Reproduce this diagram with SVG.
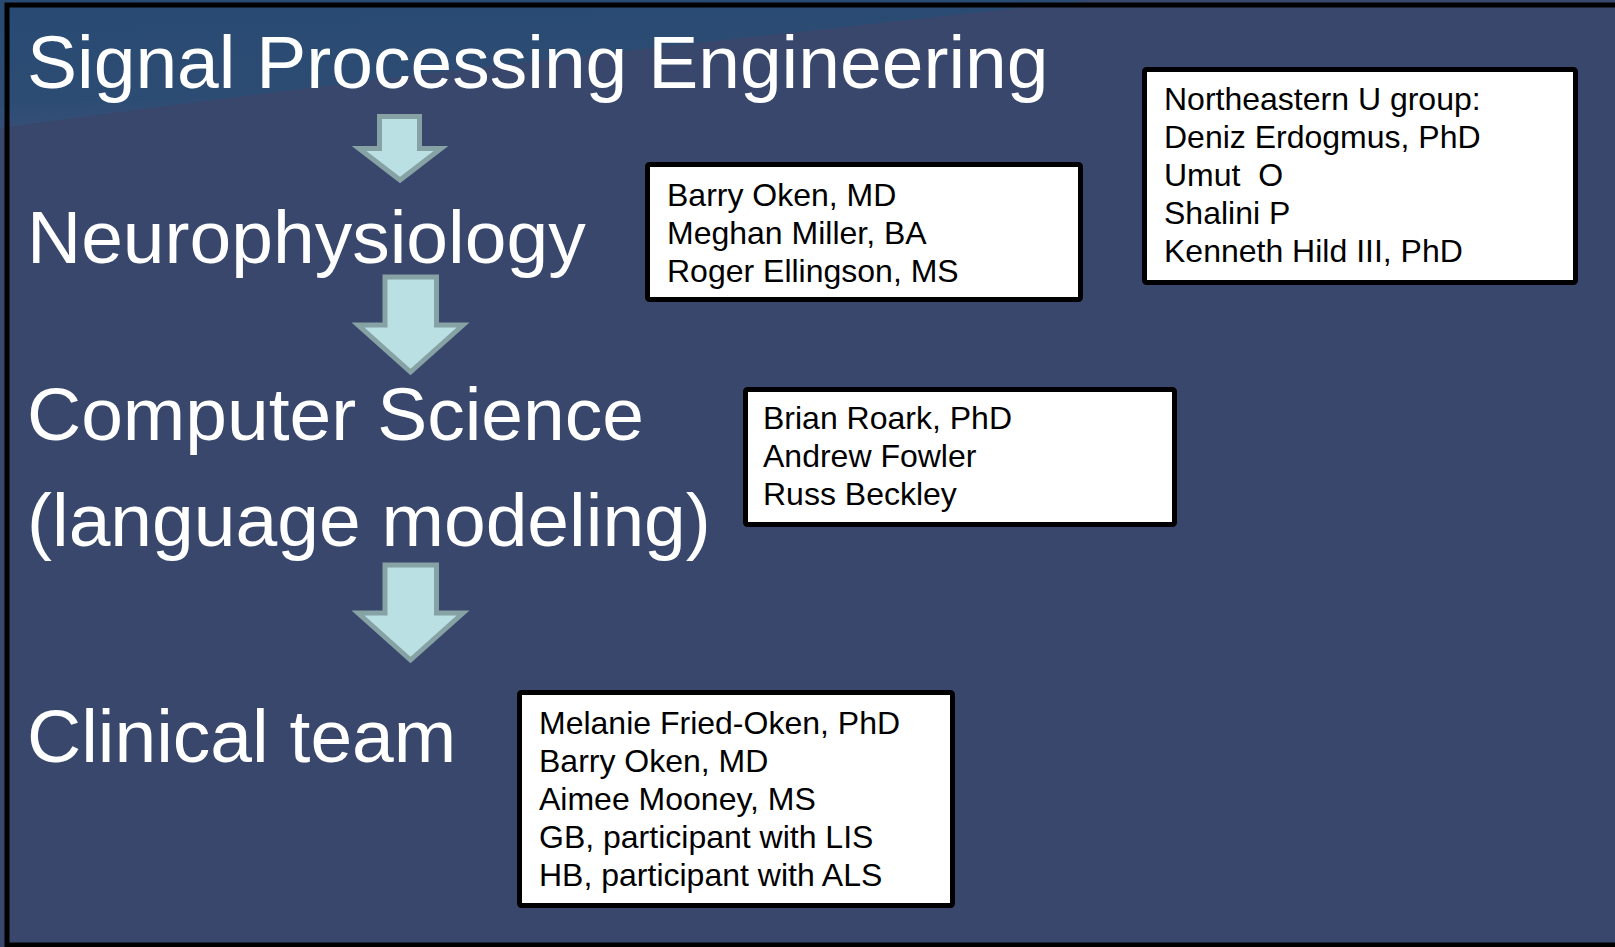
<svg xmlns="http://www.w3.org/2000/svg" width="1615" height="947" viewBox="0 0 1615 947">
  <defs>
    <linearGradient id="band" x1="0" y1="0" x2="0.3" y2="1">
      <stop offset="0" stop-color="#284a72"/>
      <stop offset="0.75" stop-color="#2d4c74"/>
      <stop offset="1" stop-color="#3a5078"/>
    </linearGradient>
    <style>
      .title { font-family: "Liberation Sans", Arial, sans-serif; font-size: 75px; fill: #ffffff; }
      .box { fill: #ffffff; stroke: #000000; stroke-width: 5; }
      .boxtext { font-family: "Liberation Sans", Arial, sans-serif; font-size: 32px; fill: #000000; }
      .arrow { fill: #bae0e3; stroke: #86a2a4; stroke-width: 5; stroke-linejoin: miter; }
    </style>
  </defs>

  <!-- slide background -->
  <rect x="0" y="0" width="1615" height="947" fill="#38476b"/>
  <path d="M0,0 L1090,0 C820,30 380,75 0,128 Z" fill="url(#band)"/>
  <rect x="7" y="5" width="1620" height="940" fill="none" stroke="#000000" stroke-width="5"/>

  <!-- stage headings -->
  <g id="stage-signal">
    <text class="title" x="27" y="87.5">Signal Processing Engineering</text>
  </g>
  <g id="stage-neuro">
    <text class="title" x="27" y="263">Neurophysiology</text>
  </g>
  <g id="stage-cs">
    <text class="title" x="27" y="440">Computer Science</text>
    <text class="title" x="27" y="546">(language modeling)</text>
  </g>
  <g id="stage-clinical">
    <text class="title" x="27" y="762">Clinical team</text>
  </g>

  <!-- down arrows between stages -->
  <g id="connectors">
    <path class="arrow" d="M379.5,116.5 H419.5 V148.5 H441 L400,180 L359,148.5 H379.5 Z"/>
    <path class="arrow" d="M385,277 H436.5 V325 H463 L410.5,372 L358,325 H385 Z"/>
    <path class="arrow" d="M385,565 H436.5 V613 H463 L410.5,660 L358,613 H385 Z"/>
  </g>

  <!-- team member boxes -->
  <g id="box-northeastern">
    <rect class="box" x="1144.5" y="69.5" width="431" height="213" rx="2"/>
    <text class="boxtext" x="1164" y="109.5">Northeastern U group:</text>
    <text class="boxtext" x="1164" y="147.5">Deniz Erdogmus, PhD</text>
    <text class="boxtext" x="1164" y="185.5" xml:space="preserve">Umut  O</text>
    <text class="boxtext" x="1164" y="223.5">Shalini P</text>
    <text class="boxtext" x="1164" y="261.5">Kenneth Hild III, PhD</text>
  </g>
  <g id="box-neuro">
    <rect class="box" x="647.5" y="164.5" width="433" height="135" rx="2"/>
    <text class="boxtext" x="667" y="205.5">Barry Oken, MD</text>
    <text class="boxtext" x="667" y="243.5">Meghan Miller, BA</text>
    <text class="boxtext" x="667" y="281.5">Roger Ellingson, MS</text>
  </g>
  <g id="box-cs">
    <rect class="box" x="745.5" y="389.5" width="429" height="135" rx="2"/>
    <text class="boxtext" x="763" y="429">Brian Roark, PhD</text>
    <text class="boxtext" x="763" y="467">Andrew Fowler</text>
    <text class="boxtext" x="763" y="505">Russ Beckley</text>
  </g>
  <g id="box-clinical">
    <rect class="box" x="519.5" y="692.5" width="433" height="213" rx="2"/>
    <text class="boxtext" x="539" y="733.5">Melanie Fried-Oken, PhD</text>
    <text class="boxtext" x="539" y="771.5">Barry Oken, MD</text>
    <text class="boxtext" x="539" y="809.5">Aimee Mooney, MS</text>
    <text class="boxtext" x="539" y="847.5">GB, participant with LIS</text>
    <text class="boxtext" x="539" y="885.5">HB, participant with ALS</text>
  </g>
</svg>
